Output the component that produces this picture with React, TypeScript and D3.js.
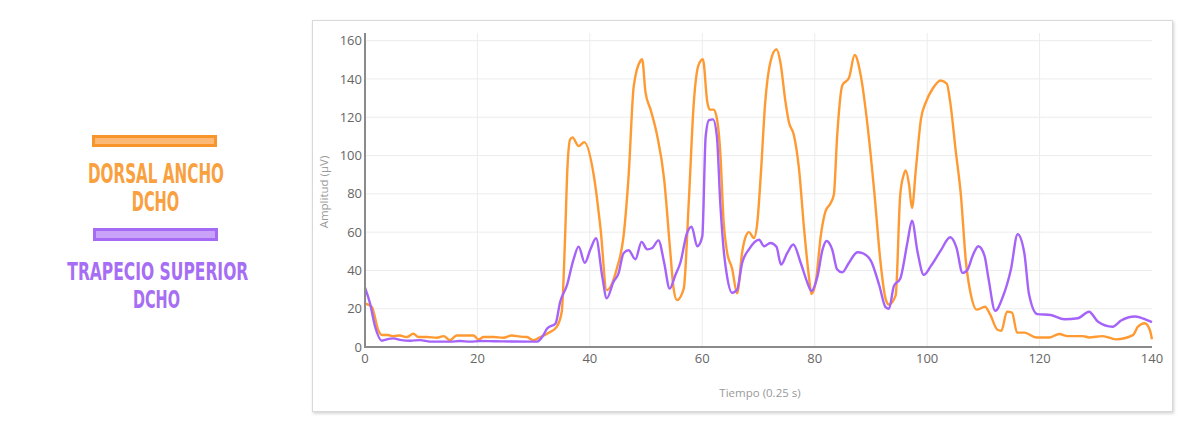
import React from "react";
import * as d3 from "d3";

// ---- data ----
const dorsalT = [0, 1.2, 2.4, 3.0, 4.1, 5.0, 6.2, 7.4, 8.6, 9.5, 11, 12.8, 14, 15.1, 16.3, 18.1, 19.3, 20.2, 21.1, 22.9, 24.6, 26.1, 27.6, 28.8, 30, 31.2, 32.7, 34.1, 35.0, 35.6, 36.0, 36.5, 36.9, 38.0, 39.0, 40.7, 41.9, 43.0, 44.8, 46.0, 46.9, 47.8, 49.0, 49.3, 49.9, 50.8, 52.0, 53.2, 54.3, 54.9, 55.5, 56.7, 57.6, 58.5, 59.3, 60.1, 60.9, 61.3, 62.0, 62.5, 63.2, 63.8, 64.4, 65.3, 66.2, 67.1, 67.7, 68.3, 69.2, 69.8, 70.4, 71.2, 72.1, 73.2, 73.9, 74.8, 75.4, 76.3, 77.2, 78.1, 79.0, 79.4, 80.2, 81.1, 81.9, 82.8, 83.4, 84.0, 84.9, 86.1, 87.1, 88.2, 89.4, 90.6, 91.7, 92.6, 93.2, 94.4, 95.2, 95.8, 96.2, 96.8, 97.3, 98.0, 98.9, 99.8, 101.0, 102.4, 103.5, 104.1, 105.1, 106.0, 106.9, 107.8, 108.8, 110.3, 111.2, 112.5, 113.2, 114.2, 115.1, 116.0, 117.3, 119.4, 121.7, 123.5, 125.0, 127.7, 128.8, 131.2, 133.6, 136.6, 137.5, 138.7, 139.6, 140];
const dorsalV = [22.7, 21, 8.5, 6.3, 6.3, 5.7, 6.0, 5.2, 6.9, 5.2, 5.2, 4.8, 5.7, 3.5, 6, 6, 6, 3.9, 5.2, 5.2, 4.8, 6, 5.4, 5.2, 3.5, 5.2, 7.4, 10.5, 18.4, 58, 93, 108.5, 109.5, 105, 107, 89.6, 61.8, 29.7, 41, 58, 89.6, 136, 149.5, 150.3, 133, 124, 110, 88, 50, 30.5, 24.5, 30.5, 76, 128, 147, 150.3, 127.8, 124, 124, 120.8, 101.8, 65.3, 49.7, 41, 28, 49.7, 57.5, 60, 56.9, 65.3, 89.6, 128, 148.6, 155.5, 148.6, 128, 117.5, 110.6, 93.2, 62, 36, 27.6, 34.3, 58.6, 70.7, 75, 79.5, 110.6, 136.6, 140.6, 152.5, 141.6, 115.6, 80.9, 44.4, 25.3, 22.2, 27, 79, 89.6, 92.2, 84.4, 72.6, 93, 119, 128, 135, 139.2, 137.5, 128, 102, 79.5, 44.4, 27, 19.5, 21, 17, 9, 8.5, 18.5, 18, 7.5, 7.5, 5, 5, 6.8, 5.7, 5.7, 5, 5.7, 4, 6.2, 10.6, 12.4, 9, 4];

const trapecioT = [0, 0.9, 1.8, 3.0, 3.9, 5.0, 6.5, 8.0, 9.8, 11.6, 13.4, 15.1, 16.9, 18.7, 20.5, 22.9, 26, 30.6, 31.8, 32.4, 33.9, 34.7, 35.9, 37.1, 38.0, 39.1, 40.1, 41.1, 42.2, 43.0, 44.2, 45.1, 46.0, 46.9, 48.1, 49.2, 50.2, 51.1, 52.2, 53.2, 54.2, 55.2, 56.1, 57.3, 58.1, 59.1, 60.0, 60.6, 61.2, 61.9, 62.6, 63.2, 63.8, 64.4, 65.3, 66.2, 67.1, 68.3, 70.1, 71.0, 72.1, 73.2, 74.0, 75.1, 76.2, 77.5, 78.7, 79.4, 80.5, 81.4, 82.1, 83.1, 84.0, 84.9, 86.1, 87.6, 88.5, 90.0, 91.5, 92.6, 93.2, 94.1, 95.2, 96.5, 97.3, 98.3, 99.4, 100.7, 102.4, 104.1, 105.2, 106.3, 107.2, 108.1, 109.1, 110.2, 110.9, 112.1, 113.5, 114.9, 116.1, 117.3, 118.1, 119.6, 122.0, 124.4, 126.8, 128.8, 130.4, 133.0, 134.5, 136.9, 138.3, 140];
const trapecioV = [31, 22.7, 10.6, 3.3, 4, 4.5, 3.6, 3.3, 3.6, 2.8, 2.8, 2.8, 3.1, 2.8, 3.1, 3, 2.9, 2.8, 6.5, 9.7, 12.3, 23.4, 32, 45.8, 52.4, 44, 51, 56.8, 37, 25.4, 34, 38.5, 49, 50.5, 45.8, 54.9, 51, 51.7, 55.7, 44.3, 30.5, 37.5, 44, 59.7, 62.8, 52.6, 57.8, 109.9, 118.5, 118.9, 109.9, 75.2, 50.9, 37, 28.3, 30, 44, 51, 56, 52.6, 54.3, 52.3, 43, 49, 53.5, 44, 33.6, 29.3, 37, 51, 55.4, 51, 40.5, 39, 44, 49.5, 49, 45, 32, 20.8, 19.9, 32, 35.6, 54.7, 66, 49.5, 37.7, 42.5, 50.3, 57.3, 52, 38.7, 40.5, 47.7, 52.6, 47.7, 36, 18.9, 26.5, 40.5, 58.9, 48.8, 28, 17.2, 16.7, 14.5, 15, 18.4, 13.2, 10.6, 13.8, 15.9, 15, 13];

const xTicks = [0, 20, 40, 60, 80, 100, 120, 140];
const yTicks = [0, 20, 40, 60, 80, 100, 120, 140, 160];
const xLabel = "Tiempo (0.25 s)";
const yLabel = "Amplitud (µV)";
const legendDorsal = ["DORSAL ANCHO", "DCHO"];
const legendTrapecio = ["TRAPECIO SUPERIOR", "DCHO"];

const ORANGE = "#FF9A33";
const PURPLE = "#A563F9";

export default function App() {
  const x = d3.scaleLinear().domain([0, 140]).range([365, 1152]);
  const y = d3.scaleLinear().domain([0, 164]).range([347, 33]);

  const line = d3
    .line<[number, number]>()
    .x((d) => x(d[0]))
    .y((d) => y(d[1]))
    .curve(d3.curveMonotoneX);

  const dorsal = dorsalT.map((t, i) => [t, dorsalV[i]] as [number, number]);
  const trapecio = trapecioT.map((t, i) => [t, trapecioV[i]] as [number, number]);

  const tickFont = "'Open Sans', 'DejaVu Sans', sans-serif";
  const legendFont = "'DejaVu Sans Condensed', 'DejaVu Sans', sans-serif";

  return (
    <div style={{ position: "absolute", left: 0, top: 0 }}>
      <svg width={1200} height={436} style={{ display: "block", background: "#fff" }}>
        <defs>
          <filter id="shadow" x="-5%" y="-5%" width="110%" height="115%">
            <feDropShadow dx="1" dy="1.5" stdDeviation="1.5" floodColor="#000" floodOpacity="0.18" />
          </filter>
        </defs>

        {/* legend */}
        <rect x={93.5} y={136.5} width={122} height={9} fill="#FCB877" stroke="#F7952B" strokeWidth={3} />
        <text x={156} y={183} fill="#F9A03F" fontFamily={legendFont} fontWeight="bold" fontSize={26} textAnchor="middle" textLength={136} lengthAdjust="spacingAndGlyphs">{legendDorsal[0]}</text>
        <text x={155.5} y={210.5} fill="#F9A03F" fontFamily={legendFont} fontWeight="bold" fontSize={26} textAnchor="middle" textLength={47.5} lengthAdjust="spacingAndGlyphs">{legendDorsal[1]}</text>
        <rect x={94.5} y={229.5} width={122} height={10} fill="#C9A3FA" stroke="#A66BF5" strokeWidth={3} />
        <text x={157.8} y={279.5} fill="#A66EF4" fontFamily={legendFont} fontWeight="bold" fontSize={25} textAnchor="middle" textLength={181} lengthAdjust="spacingAndGlyphs">{legendTrapecio[0]}</text>
        <text x={156.5} y={308.3} fill="#A66EF4" fontFamily={legendFont} fontWeight="bold" fontSize={25} textAnchor="middle" textLength={47} lengthAdjust="spacingAndGlyphs">{legendTrapecio[1]}</text>

        {/* chart panel */}
        <rect x={312.5} y={20.5} width={860} height={391} fill="#fff" stroke="#d9d9d9" strokeWidth={1} filter="url(#shadow)" />

        {/* grid */}
        {yTicks.filter((v) => v > 0).map((v) => (
          <line key={"gy" + v} x1={x(0)} x2={x(140)} y1={y(v)} y2={y(v)} stroke="#ececec" strokeWidth={1} />
        ))}
        {xTicks.filter((v) => v > 0 && v < 140).map((v) => (
          <line key={"gx" + v} x1={x(v)} x2={x(v)} y1={y(0)} y2={y(164)} stroke="#ececec" strokeWidth={1} />
        ))}

        {/* series */}
        <path d={line(dorsal) || ""} fill="none" stroke={ORANGE} strokeWidth={2.4} strokeLinejoin="round" />
        <path d={line(trapecio) || ""} fill="none" stroke={PURPLE} strokeWidth={2.4} strokeLinejoin="round" />

        {/* axes */}
        <line x1={x(0)} x2={x(0)} y1={y(0) + 1} y2={y(164)} stroke="#8a8a8a" strokeWidth={2} />
        <line x1={x(0) - 1} x2={x(140)} y1={y(0)} y2={y(0)} stroke="#8a8a8a" strokeWidth={2} />

        {yTicks.map((v) => (
          <text key={"ty" + v} x={x(0) - 3} y={y(v)} dy="0.35em" textAnchor="end" fill="#666" fontFamily={tickFont} fontSize={13}>{v}</text>
        ))}
        {xTicks.map((v) => (
          <text key={"tx" + v} x={x(v)} y={y(0) + 16} textAnchor="middle" fill="#666" fontFamily={tickFont} fontSize={13}>{v}</text>
        ))}

        <text x={760} y={397} textAnchor="middle" fill="#999" fontFamily={tickFont} fontSize={11.5}>{xLabel}</text>
        <text transform={`translate(328, 192) rotate(-90)`} textAnchor="middle" fill="#999" fontFamily={tickFont} fontSize={11.5}>{yLabel}</text>
      </svg>
    </div>
  );
}
